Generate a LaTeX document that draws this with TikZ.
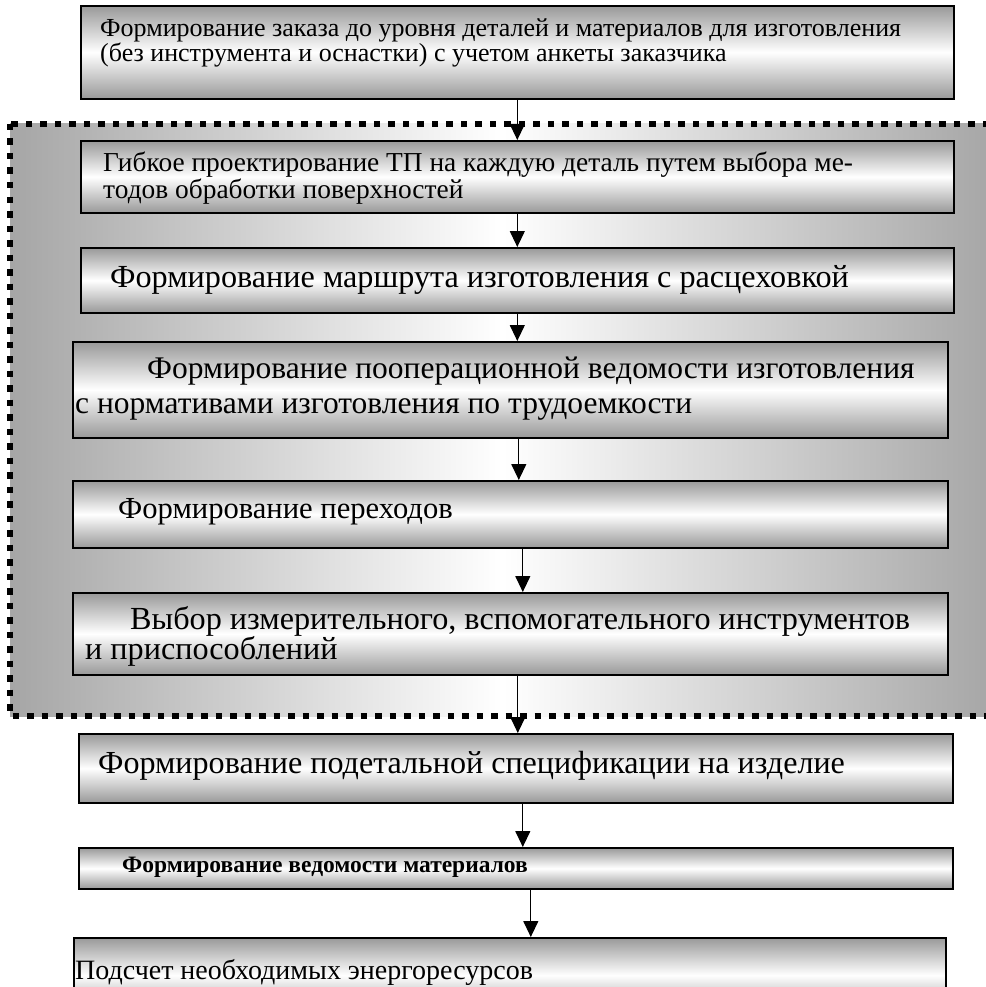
\documentclass[tikz,border=0pt]{standalone}
\usepackage{fontspec}
\setmainfont{Liberation Serif}
\usetikzlibrary{arrows.meta}

\begin{document}
\begin{tikzpicture}[x=1pt,y=-1pt,
		stage/.style={draw=black, line width=1.6pt, inner sep=0pt, anchor=north west,
			top color=gray!80, bottom color=gray!80, middle color=white},
		lbl/.style={inner sep=0pt, align=left, anchor=west},
		flow/.style={line width=1.2pt, -{Triangle[width=15pt,length=16pt]}},
		frame/.style={line width=6.5pt, dash pattern=on 6.5pt off 8pt}]
	\useasboundingbox (0,0) rectangle (985,987);
	% shaded area with the dotted frame
	\path[left color=gray!70, right color=gray!70, middle color=white] (10,124) rectangle (995,716);
	\draw[frame] (10,124) rectangle (995,716);
	% boxes
	\node[stage, minimum width=873pt, minimum height=93pt] (b1) at (80,5) {};
	\node[stage, minimum width=873pt, minimum height=72pt] (b2) at (80,140) {};
	\node[stage, minimum width=873pt, minimum height=65pt] (b3) at (80,247) {};
	\node[stage, minimum width=875pt, minimum height=96pt] (b4) at (72,341) {};
	\node[stage, minimum width=875pt, minimum height=67pt] (b5) at (72,480) {};
	\node[stage, minimum width=875pt, minimum height=82pt] (b6) at (72,592) {};
	\node[stage, minimum width=874pt, minimum height=69pt] (b7) at (78,733) {};
	\node[stage, minimum width=874pt, minimum height=41pt] (b8) at (78,847) {};
	\node[stage, minimum width=872pt, minimum height=75pt] (b9) at (73,937) {};
	% texts
	\node[lbl, font=\fontsize{26}{23}\selectfont] (t1) at (100,43)
		{Формирование заказа до уровня деталей и материалов для изготовления\\(без инструмента и оснастки) с учетом анкеты заказчика};
	\node[lbl, font=\fontsize{27.4}{25}\selectfont] (t2) at (103,178)
		{Гибкое проектирование ТП на каждую деталь путем выбора ме-\\тодов обработки поверхностей};
	\node[lbl, font=\fontsize{32.2}{30}\selectfont] (t3) at (110,280)
		{Формирование маршрута изготовления с расцеховкой};
	\node[lbl, font=\fontsize{31.5}{35}\selectfont] (t4) at (75,389)
		{\hspace*{72pt}Формирование пооперационной ведомости изготовления\\с нормативами изготовления по трудоемкости};
	\node[lbl, font=\fontsize{30.6}{30}\selectfont] (t5) at (118,512)
		{Формирование переходов};
	\node[lbl, font=\fontsize{32.2}{30}\selectfont] (t6) at (85,636)
		{\hspace*{45pt}Выбор измерительного, вспомогательного инструментов\\и приспособлений};
	\node[lbl, font=\fontsize{32.1}{30}\selectfont] (t7) at (98,766)
		{Формирование подетальной спецификации на изделие};
	\node[lbl, font=\bfseries\fontsize{23.5}{20}\selectfont] (t8) at (122,867)
		{Формирование ведомости материалов};
	\node[lbl, font=\fontsize{28}{30}\selectfont] (t9) at (75,972)
		{Подсчет необходимых энергоресурсов};
	% arrows
	\draw[flow] (b1.south) -- (b1.south |- b2.north);
	\draw[flow] (b2.south) -- (b2.south |- b3.north);
	\draw[flow] (b3.south) -- (b3.south |- b4.north);
	\draw[flow] ([xshift=8.5pt]b4.south) -- ([xshift=8.5pt]b4.south |- b5.north);
	\draw[flow] ([xshift=12.5pt]b5.south) -- ([xshift=12.5pt]b5.south |- b6.north);
	\draw[flow] ([xshift=7.5pt]b6.south) -- ([xshift=7.5pt]b6.south |- b7.north);
	\draw[flow] ([xshift=7pt]b7.south) -- ([xshift=7pt]b7.south |- b8.north);
	\draw[flow] ([xshift=15pt]b8.south) -- ([xshift=15pt]b8.south |- b9.north);
\end{tikzpicture}
\end{document}
